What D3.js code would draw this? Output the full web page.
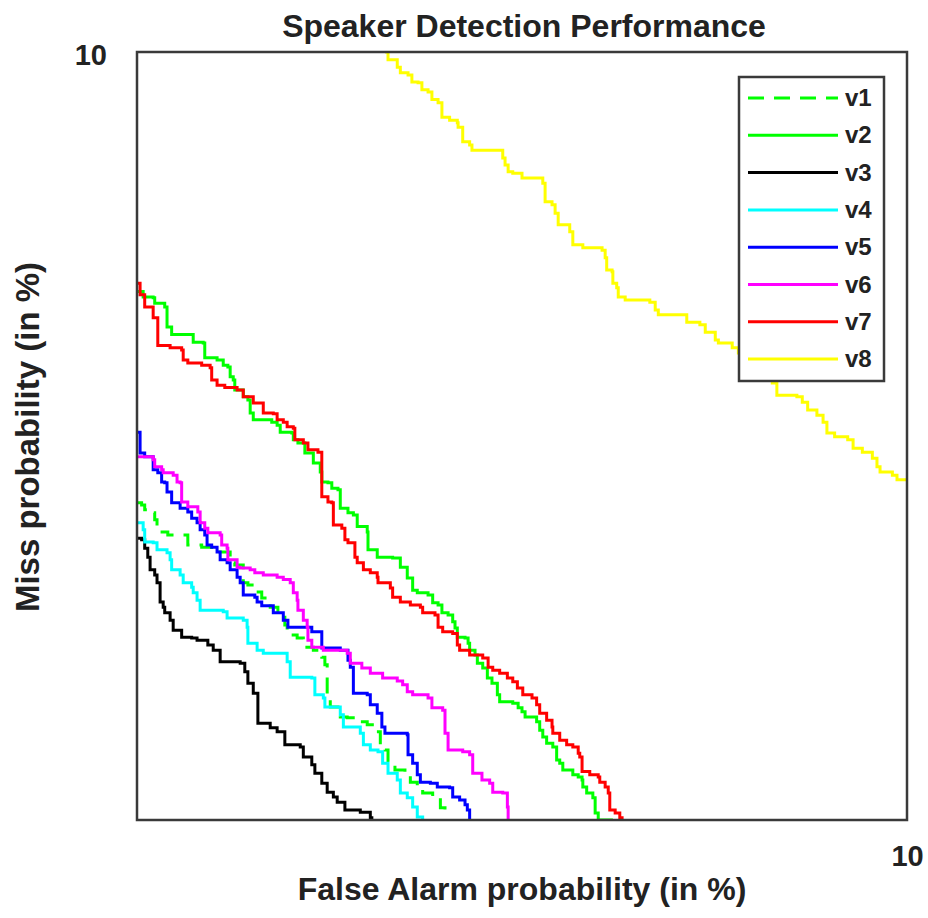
<!DOCTYPE html>
<html>
<head>
<meta charset="utf-8">
<script src="https://cdn.jsdelivr.net/npm/d3@7"></script>
<style>
  body { margin: 0; background: #fff; }
  text { font-family: "Liberation Sans", Arial, sans-serif; font-weight: bold; fill: #222; }
</style>
</head>
<body>
<div id="chart"></div>
<script>
// [false alarm %, miss %] pairs
const v1 = [[0.01,4.13],[0.06,4.10],[0.10,4.04],[0.17,4.00],[0.23,3.91],[0.26,3.75],[0.40,3.71],[0.60,3.71],[0.66,3.58],[0.84,3.55],[0.97,3.52],[1.04,3.49],[1.21,3.35],[1.27,3.32],[1.38,3.09],[1.44,3.06],[1.53,2.97],[1.62,2.89],[1.73,2.77],[1.83,2.71],[1.92,2.54],[1.95,2.41],[2.08,2.37],[2.16,2.25],[2.29,2.21],[2.40,2.12],[2.44,2.02],[2.47,1.82],[2.47,1.63],[2.51,1.47],[2.64,1.34],[2.73,1.33],[2.86,1.28],[2.99,1.24],[3.09,1.15],[3.16,0.98],[3.22,0.91],[3.26,0.76],[3.35,0.65],[3.48,0.61],[3.55,0.49],[3.64,0.43],[3.71,0.35],[3.84,0.29],[3.94,0.16],[4.00,0]];
const v2 = [[0.01,6.88],[0.08,6.81],[0.21,6.80],[0.23,6.73],[0.36,6.68],[0.39,6.42],[0.45,6.32],[0.62,6.32],[0.73,6.22],[0.86,6.21],[0.88,6.02],[1.04,5.99],[1.12,5.92],[1.18,5.90],[1.21,5.77],[1.25,5.73],[1.27,5.60],[1.38,5.51],[1.44,5.47],[1.47,5.30],[1.51,5.21],[1.75,5.18],[1.82,5.14],[1.86,5.05],[2.01,5.04],[2.03,4.95],[2.09,4.91],[2.18,4.78],[2.29,4.65],[2.38,4.53],[2.40,4.40],[2.48,4.39],[2.53,4.32],[2.61,4.30],[2.64,4.06],[2.74,4.00],[2.81,3.97],[2.86,3.82],[2.99,3.75],[3.00,3.52],[3.12,3.42],[3.32,3.41],[3.42,3.29],[3.51,3.15],[3.58,2.99],[3.64,2.96],[3.78,2.93],[3.84,2.83],[3.91,2.80],[3.96,2.70],[4.04,2.67],[4.10,2.58],[4.13,2.50],[4.16,2.38],[4.26,2.37],[4.30,2.30],[4.32,2.21],[4.39,2.15],[4.42,2.04],[4.49,1.98],[4.55,1.85],[4.61,1.78],[4.68,1.63],[4.71,1.54],[4.88,1.52],[4.95,1.46],[5.00,1.41],[5.04,1.34],[5.19,1.28],[5.23,1.17],[5.27,1.08],[5.32,1.00],[5.40,0.95],[5.45,0.78],[5.49,0.74],[5.53,0.65],[5.66,0.59],[5.73,0.56],[5.78,0.52],[5.79,0.43],[5.84,0.35],[5.92,0.29],[5.95,0.09],[5.99,0],[6.18,0]];
const v3 = [[0.01,3.67],[0.06,3.65],[0.10,3.54],[0.14,3.42],[0.17,3.26],[0.23,3.19],[0.26,3.09],[0.30,2.84],[0.34,2.77],[0.36,2.70],[0.43,2.60],[0.47,2.47],[0.58,2.38],[0.71,2.37],[0.78,2.34],[0.92,2.28],[0.99,2.21],[1.08,2.06],[1.34,2.04],[1.40,1.93],[1.44,1.78],[1.51,1.65],[1.57,1.26],[1.73,1.20],[1.82,1.15],[1.92,0.98],[2.12,0.95],[2.16,0.82],[2.27,0.72],[2.31,0.61],[2.40,0.48],[2.47,0.36],[2.55,0.30],[2.60,0.23],[2.70,0.13],[2.90,0.10],[3.03,0.03],[3.05,0]];
const v4 = [[0.01,3.87],[0.08,3.78],[0.10,3.62],[0.21,3.61],[0.26,3.52],[0.39,3.48],[0.43,3.39],[0.45,3.26],[0.56,3.19],[0.60,3.09],[0.71,3.03],[0.73,2.96],[0.78,2.86],[0.82,2.73],[1.12,2.71],[1.17,2.63],[1.38,2.60],[1.43,2.51],[1.44,2.30],[1.56,2.21],[1.64,2.17],[1.90,2.17],[1.95,2.06],[1.99,1.86],[2.27,1.85],[2.31,1.63],[2.42,1.59],[2.44,1.47],[2.64,1.37],[2.68,1.21],[2.90,1.13],[2.94,0.98],[3.03,0.91],[3.13,0.89],[3.19,0.74],[3.26,0.61],[3.38,0.52],[3.42,0.35],[3.51,0.29],[3.58,0.17],[3.64,0.04],[3.71,0]];
const v5 = [[0.01,5.05],[0.04,4.78],[0.10,4.73],[0.21,4.71],[0.21,4.56],[0.27,4.52],[0.32,4.40],[0.36,4.39],[0.39,4.27],[0.45,4.26],[0.45,4.13],[0.56,4.06],[0.66,4.01],[0.71,3.93],[0.78,3.87],[0.82,3.78],[0.88,3.71],[0.91,3.58],[0.97,3.55],[1.04,3.49],[1.08,3.39],[1.17,3.35],[1.21,3.26],[1.30,3.16],[1.34,3.09],[1.38,2.93],[1.53,2.90],[1.56,2.84],[1.62,2.79],[1.77,2.70],[1.90,2.60],[1.96,2.51],[2.21,2.51],[2.27,2.45],[2.40,2.41],[2.40,2.24],[2.64,2.21],[2.74,2.08],[2.77,1.99],[2.81,1.65],[2.99,1.63],[3.03,1.50],[3.12,1.39],[3.18,1.21],[3.22,1.13],[3.51,1.11],[3.52,0.85],[3.58,0.74],[3.64,0.59],[3.68,0.49],[3.81,0.48],[3.90,0.43],[4.06,0.42],[4.10,0.30],[4.19,0.26],[4.26,0.20],[4.29,0.13],[4.32,0.04],[4.32,0]];
const v6 = [[0.01,4.73],[0.08,4.73],[0.21,4.69],[0.23,4.60],[0.32,4.56],[0.34,4.52],[0.47,4.49],[0.52,4.40],[0.56,4.39],[0.58,4.14],[0.66,4.08],[0.79,4.01],[0.82,3.87],[0.88,3.80],[0.92,3.74],[1.08,3.71],[1.10,3.58],[1.17,3.54],[1.18,3.39],[1.30,3.29],[1.34,3.28],[1.47,3.26],[1.53,3.22],[1.64,3.19],[1.82,3.16],[1.90,3.13],[1.99,3.09],[2.03,2.96],[2.08,2.86],[2.09,2.73],[2.16,2.60],[2.21,2.51],[2.22,2.34],[2.27,2.25],[2.42,2.21],[2.68,2.21],[2.73,2.17],[2.77,2.04],[2.92,1.98],[3.03,1.91],[3.19,1.85],[3.38,1.81],[3.45,1.76],[3.51,1.67],[3.58,1.63],[3.78,1.59],[3.83,1.46],[3.97,1.43],[4.00,1.13],[4.04,0.91],[4.23,0.89],[4.32,0.85],[4.36,0.61],[4.48,0.52],[4.58,0.48],[4.62,0.36],[4.75,0.35],[4.81,0.17],[4.82,0]];
const v7 = [[0.01,6.99],[0.04,6.84],[0.10,6.68],[0.21,6.67],[0.21,6.54],[0.27,6.18],[0.43,6.15],[0.58,6.12],[0.60,5.99],[0.66,5.95],[0.84,5.92],[0.95,5.89],[0.97,5.73],[1.04,5.66],[1.14,5.63],[1.30,5.60],[1.38,5.51],[1.51,5.43],[1.64,5.30],[1.77,5.29],[1.82,5.21],[1.90,5.18],[1.95,5.12],[2.03,5.10],[2.05,4.95],[2.16,4.91],[2.22,4.82],[2.35,4.79],[2.40,4.73],[2.40,4.21],[2.48,4.14],[2.53,4.13],[2.55,3.84],[2.66,3.80],[2.70,3.65],[2.74,3.61],[2.83,3.42],[2.86,3.35],[2.94,3.26],[3.03,3.22],[3.12,3.16],[3.13,3.09],[3.29,3.02],[3.32,2.90],[3.42,2.84],[3.55,2.80],[3.68,2.77],[3.71,2.70],[3.87,2.67],[3.91,2.51],[3.97,2.45],[4.10,2.43],[4.16,2.28],[4.19,2.21],[4.32,2.15],[4.49,2.11],[4.56,1.99],[4.62,1.95],[4.71,1.91],[4.81,1.85],[4.88,1.80],[4.94,1.72],[5.01,1.63],[5.13,1.59],[5.19,1.50],[5.23,1.39],[5.32,1.30],[5.39,1.21],[5.40,1.13],[5.49,1.04],[5.58,0.98],[5.66,0.95],[5.73,0.87],[5.75,0.82],[5.78,0.63],[5.88,0.59],[5.99,0.56],[6.01,0.49],[6.08,0.43],[6.12,0.35],[6.14,0.13],[6.21,0.09],[6.27,0.03],[6.30,0]];
const v8 = [[3.22,10.00],[3.26,9.90],[3.38,9.80],[3.42,9.73],[3.52,9.70],[3.57,9.61],[3.65,9.60],[3.70,9.51],[3.78,9.48],[3.83,9.38],[3.91,9.34],[3.96,9.15],[4.06,9.11],[4.16,9.08],[4.17,9.02],[4.23,9.01],[4.23,8.83],[4.32,8.79],[4.35,8.72],[4.71,8.72],[4.75,8.62],[4.78,8.53],[4.82,8.44],[4.88,8.42],[5.00,8.36],[5.19,8.36],[5.27,8.29],[5.30,8.05],[5.39,8.01],[5.43,7.90],[5.47,7.75],[5.62,7.66],[5.66,7.49],[5.79,7.45],[6.04,7.42],[6.08,7.32],[6.10,7.16],[6.17,7.14],[6.18,6.99],[6.23,6.93],[6.25,6.81],[6.34,6.77],[6.66,6.74],[6.73,6.64],[6.77,6.58],[7.09,6.58],[7.14,6.48],[7.31,6.45],[7.38,6.35],[7.51,6.25],[7.55,6.21],[7.73,6.15],[7.81,6.08],[8.25,5.69],[8.31,5.53],[8.57,5.51],[8.64,5.44],[8.71,5.34],[8.83,5.27],[8.91,5.18],[8.96,5.04],[9.06,4.99],[9.23,4.95],[9.30,4.84],[9.42,4.79],[9.49,4.79],[9.55,4.71],[9.61,4.60],[9.65,4.53],[9.81,4.49],[9.87,4.43],[10.0,4.43]];

const seriesNames = ["v1", "v2", "v3", "v4", "v5", "v6", "v7", "v8"];
const seriesColors = ["#00ff00", "#00ff00", "#000000", "#00ffff", "#0000ff", "#ff00ff", "#ff0000", "#ffff00"];
const seriesDash = ["16,10", null, null, null, null, null, null, null];
const xTicks = [10];
const yTicks = [10];

var width = 928;
var height = 918;
var margin = {left: 137, right: 21, top: 52, bottom: 98};

var x = d3.scaleLinear().domain([0, 10]).range([margin.left, width - margin.right]);
var y = d3.scaleLinear().domain([0, 10]).range([height - margin.bottom, margin.top]);

var svg = d3.select("#chart")
  .append("svg")
    .attr("width", width)
    .attr("height", height);

svg.append("defs").append("clipPath")
  .attr("id", "plotclip")
  .append("rect")
    .attr("x", x(0))
    .attr("y", y(10))
    .attr("width", x(10) - x(0))
    .attr("height", y(0) - y(10));

var line = d3.line()
  .x(function(d) { return x(d[0]); })
  .y(function(d) { return y(d[1]); })
  .curve(d3.curveStepAfter);

var allSeries = [v1, v2, v3, v4, v5, v6, v7, v8];

var plot = svg.append("g").attr("clip-path", "url(#plotclip)");

allSeries.forEach(function(s, i) {
  plot.append("path")
    .datum(s)
    .attr("fill", "none")
    .attr("stroke", seriesColors[i])
    .attr("stroke-width", 3)
    .attr("stroke-dasharray", seriesDash[i])
    .attr("d", line);
});

// frame
svg.append("rect")
  .attr("x", x(0))
  .attr("y", y(10))
  .attr("width", x(10) - x(0))
  .attr("height", y(0) - y(10))
  .attr("fill", "none")
  .attr("stroke", "#3a3a3a")
  .attr("stroke-width", 2.5);

// axes: only the "10" ticks
var xAxis = svg.append("g")
  .attr("transform", "translate(0," + y(0) + ")")
  .call(d3.axisBottom(x).tickValues(xTicks).tickSize(0).tickPadding(25));
xAxis.select(".domain").remove();

var yAxis = svg.append("g")
  .attr("transform", "translate(" + x(0) + ",0)")
  .call(d3.axisLeft(y).tickValues(yTicks).tickSize(0).tickPadding(30));
yAxis.select(".domain").remove();

svg.selectAll(".tick text")
  .style("font-family", "'Liberation Sans', Arial, sans-serif")
  .style("font-weight", "bold")
  .style("font-size", "29px")
  .attr("fill", "#222");
yAxis.selectAll(".tick text").attr("dy", "0.42em");

svg.append("text")
  .attr("x", 524)
  .attr("y", 37)
  .attr("text-anchor", "middle")
  .style("font-size", "32px")
  .text("Speaker Detection Performance");

svg.append("text")
  .attr("x", 522)
  .attr("y", 900)
  .attr("text-anchor", "middle")
  .style("font-size", "32px")
  .text("False Alarm probability (in %)");

svg.append("text")
  .attr("transform", "translate(39,437) rotate(-90)")
  .attr("text-anchor", "middle")
  .style("font-size", "33px")
  .text("Miss probability (in %)");

// legend
var legend = svg.append("g");
legend.append("rect")
  .attr("x", 739)
  .attr("y", 77)
  .attr("width", 145)
  .attr("height", 304)
  .attr("fill", "#fff")
  .attr("stroke", "#3a3a3a")
  .attr("stroke-width", 2.5);

seriesNames.forEach(function(name, i) {
  var ly = 98 + i * 37.3;
  legend.append("line")
    .attr("x1", 748)
    .attr("x2", 838)
    .attr("y1", ly)
    .attr("y2", ly)
    .attr("stroke", seriesColors[i])
    .attr("stroke-width", 3)
    .attr("stroke-dasharray", seriesDash[i]);
  legend.append("text")
    .attr("x", 845)
    .attr("y", ly + 8)
    .style("font-size", "24px")
    .text(name);
});
</script>
</body>
</html>
